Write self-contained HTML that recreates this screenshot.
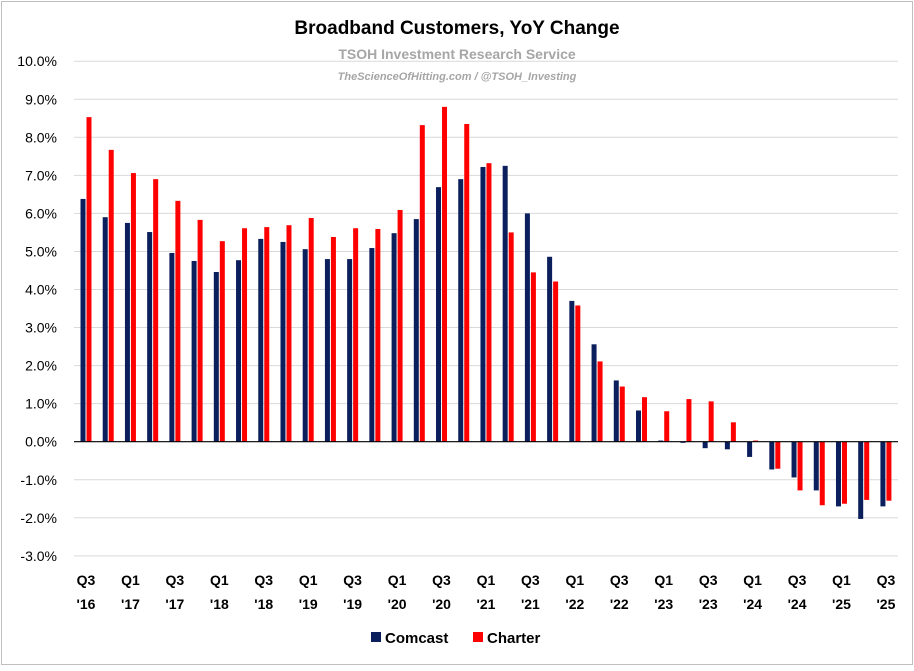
<!DOCTYPE html>
<html><head><meta charset="utf-8"><style>
body{margin:0;background:#fff;font-family:"Liberation Sans",Arial,sans-serif}
#wrap{position:relative;width:914px;height:666px}
</style></head><body>
<div id="wrap">
<svg id="chart" width="914" height="666">
<rect x="1.5" y="1.5" width="911" height="663" fill="#fff" stroke="#bfbfbf"/>
<text x="457" y="34" text-anchor="middle" font-size="19" font-weight="bold" fill="#000">Broadband Customers, YoY Change</text>
<text x="457" y="59" text-anchor="middle" font-size="14" font-weight="bold" fill="#a6a6a6">TSOH Investment Research Service</text>
<text x="457" y="80" text-anchor="middle" font-size="11" font-weight="bold" font-style="italic" fill="#a6a6a6">TheScienceOfHitting.com / @TSOH_Investing</text>
<g id="grid"></g><g id="bars"></g><g id="axes"></g>
<g>
<rect x="371" y="632" width="10" height="10" fill="#0a1f5c"/>
<text x="385" y="643" font-size="15" font-weight="bold">Comcast</text>
<rect x="473" y="632" width="10" height="10" fill="#ff0000"/>
<text x="487" y="643" font-size="15" font-weight="bold">Charter</text>
</g>
</svg>
</div>
<script>
const quarters=["Q3 '16","Q4 '16","Q1 '17","Q2 '17","Q3 '17","Q4 '17","Q1 '18","Q2 '18","Q3 '18","Q4 '18","Q1 '19","Q2 '19","Q3 '19","Q4 '19","Q1 '20","Q2 '20","Q3 '20","Q4 '20","Q1 '21","Q2 '21","Q3 '21","Q4 '21","Q1 '22","Q2 '22","Q3 '22","Q4 '22","Q1 '23","Q2 '23","Q3 '23","Q4 '23","Q1 '24","Q2 '24","Q3 '24","Q4 '24","Q1 '25","Q2 '25","Q3 '25"];
const comcast=[6.38,5.90,5.75,5.51,4.96,4.75,4.46,4.77,5.33,5.25,5.06,4.80,4.80,5.09,5.48,5.85,6.69,6.90,7.22,7.25,6.00,4.86,3.70,2.56,1.61,0.82,0.03,-0.03,-0.17,-0.20,-0.40,-0.73,-0.94,-1.28,-1.70,-2.03,-1.70];
const charter=[8.53,7.67,7.06,6.90,6.33,5.83,5.27,5.61,5.64,5.69,5.88,5.38,5.61,5.59,6.09,8.32,8.80,8.35,7.32,5.50,4.45,4.21,3.58,2.11,1.45,1.17,0.80,1.12,1.06,0.51,0.03,-0.71,-1.28,-1.67,-1.63,-1.53,-1.55];
const yTicks=[-3,-2,-1,0,1,2,3,4,5,6,7,8,9,10];
const NS="http://www.w3.org/2000/svg";
const y0=441.7, pxPer=38.05, xFirst=86, step=22.22, bw=5;
function yS(v){return y0-v*pxPer;}
function xS(i){return xFirst+i*step;}
function mk(tag,attrs,parent){const e=document.createElementNS(NS,tag);for(const k in attrs)e.setAttribute(k,attrs[k]);parent.appendChild(e);return e;}
const grid=document.getElementById('grid'),bars=document.getElementById('bars'),axes=document.getElementById('axes');
yTicks.forEach(t=>{
  if(t!==0){const l=mk('line',{x1:74,x2:898,y1:yS(t),y2:yS(t),stroke:'#d9d9d9','stroke-width':1},grid);
  
  }
  const tx=mk('text',{x:57,y:yS(t)+5,'text-anchor':'end','font-size':14,fill:'#000'},axes);
  tx.textContent=t.toFixed(1)+'%';
  
  
});
quarters.forEach((q,i)=>{
  const c=comcast[i],h=charter[i];
  const r1=mk('rect',{x:xS(i)-bw-0.5,y:Math.min(yS(c),y0),width:bw,height:Math.abs(yS(c)-y0),fill:'#0a1f5c'},bars);
  
  
  const r2=mk('rect',{x:xS(i)+0.5,y:Math.min(yS(h),y0),width:bw,height:Math.abs(yS(h)-y0),fill:'#ff0000'},bars);
  
  
  if(i%2===0){
    const p=q.split(' ');
    const t1=mk('text',{x:xS(i),y:585,'text-anchor':'middle','font-size':14,'font-weight':'bold'},axes);
    t1.textContent=p[0];
    
    
    const t2=mk('text',{x:xS(i),y:609,'text-anchor':'middle','font-size':14,'font-weight':'bold'},axes);
    t2.textContent=p[1];
    
    
  }
});
const ax=mk('line',{x1:74,x2:898,y1:y0,y2:y0,stroke:'#000','stroke-width':1.2},axes);


</script>
</body></html>
